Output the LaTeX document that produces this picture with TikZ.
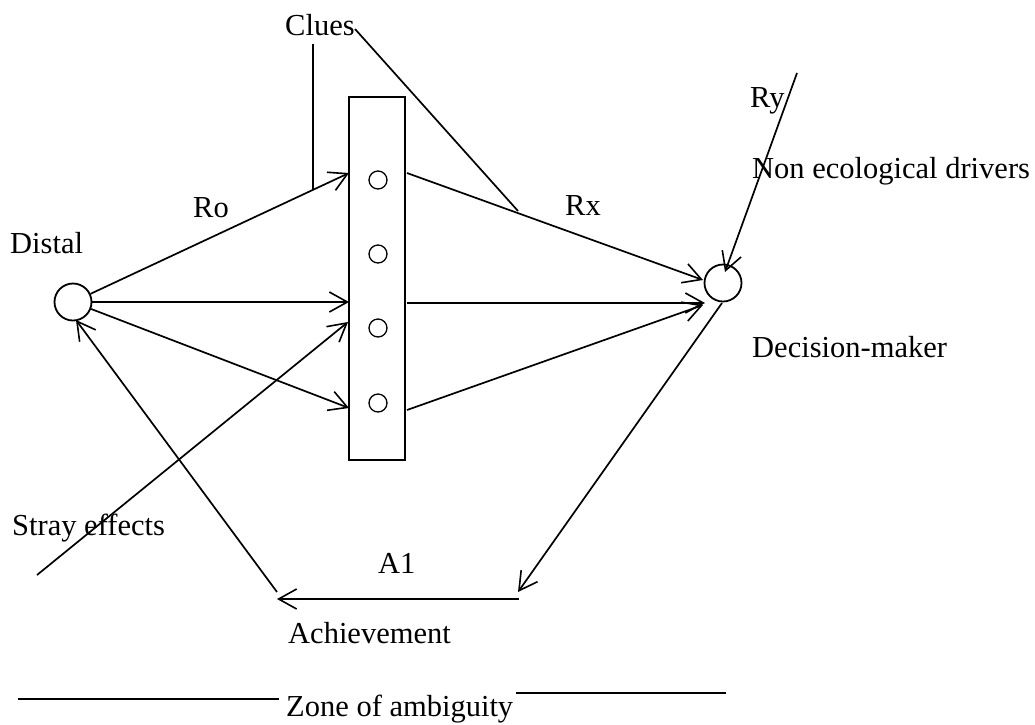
\documentclass[tikz,border=0pt]{standalone}
\usepackage{fontspec}
\setmainfont{Liberation Serif}
\usetikzlibrary{arrows.meta}
\begin{document}
\begin{tikzpicture}[x=1pt,y=-1pt,
  line/.style={line width=1.7pt},
  arr/.style={line width=1.7pt,-{Straight Barb[length=18pt,width=20pt,line width=1.6pt]}},
  lbl/.style={font=\fontsize{30.5}{36}\selectfont, inner sep=0pt, anchor=base west},
  bigcirc/.style={circle,draw,line width=1.8pt,minimum size=37pt,inner sep=0pt},
  cue/.style={circle,draw,line width=1.3pt,minimum size=18pt,inner sep=0pt},
  panel/.style={draw,line width=2pt,minimum width=56pt,minimum height=363pt,inner sep=0pt}]
\useasboundingbox (0,0) rectangle (1035,724);
% main shapes
\node[bigcirc] (distal) at (73,302) {};
\node[bigcirc] (dm) at (723,283) {};
\node[panel] (box) at (377,278.5) {};
\node[cue] (c1) at (378,180) {};
\node[cue] (c2) at (378,254) {};
\node[cue] (c3) at (378,328) {};
\node[cue] (c4) at (378,403) {};
% labels
\node[lbl] (clues) at (285,35) {Clues};
\node[lbl] (ro) at (193,217) {Ro};
\node[lbl] (rx) at (565,215) {Rx};
\node[lbl] (ry) at (750,107) {Ry};
\node[lbl] (ned) at (752,178) {Non ecological drivers};
\node[lbl] (distlbl) at (10,253) {Distal};
\node[lbl] (dmlbl) at (752,357) {Decision-maker};
\node[lbl] (stray) at (12,535) {Stray effects};
\node[lbl] (a1) at (378,573) {A1};
\node[lbl] (ach) at (288,643) {Achievement};
\node[lbl] (zone) at (286,716) {Zone of ambiguity};
% coordinates
\coordinate (t1) at (349,173);
\coordinate (t2) at (349,302);
\coordinate (t3) at (349,408);
\coordinate (s1) at (407,173);
\coordinate (s2) at (407,303);
\coordinate (s3) at (407,410);
\coordinate (d1) at (703,280);
\coordinate (d2) at (705,303);
\coordinate (d3) at (703,305);
\coordinate (strayS) at (37,575);
\coordinate (strayT) at (348,322);
\coordinate (ryS) at (797,73);
\coordinate (ryT) at (725,272);
\coordinate (dmOut) at (722,303);
\coordinate (achR) at (518,592);
\coordinate (achLineR) at (519,599);
\coordinate (achLineL) at (277,599);
\coordinate (achDiag) at (277,592);
\coordinate (distIn) at (76,320);
\coordinate (clueTop) at (313,44);
\coordinate (clueBot) at (313,190);
\coordinate (clueEnd) at (355,29);
\coordinate (rxMid) at (518,211);
\coordinate (zL1) at (18,699);
\coordinate (zL2) at (279,699);
\coordinate (zR1) at (516,693);
\coordinate (zR2) at (726,693);
% connectors
\draw[arr] (distal) -- (t1);
\draw[arr] (distal) -- (t2);
\draw[arr] (distal) -- (t3);
\draw[arr] (s1) -- (d1);
\draw[arr] (s2) -- (d2);
\draw[arr] (s3) -- (d3);
\draw[arr] (strayS) -- (strayT);
\draw[arr] (ryS) -- (ryT);
\draw[arr] (dmOut) -- (achR);
\draw[arr] (achLineR) -- (achLineL);
\draw[arr] (achDiag) -- (distIn);
\draw[line] (clueTop) -- (clueBot);
\draw[line] (clueEnd) -- (rxMid);
\draw[line] (zL1) -- (zL2);
\draw[line] (zR1) -- (zR2);
\end{tikzpicture}
\end{document}
